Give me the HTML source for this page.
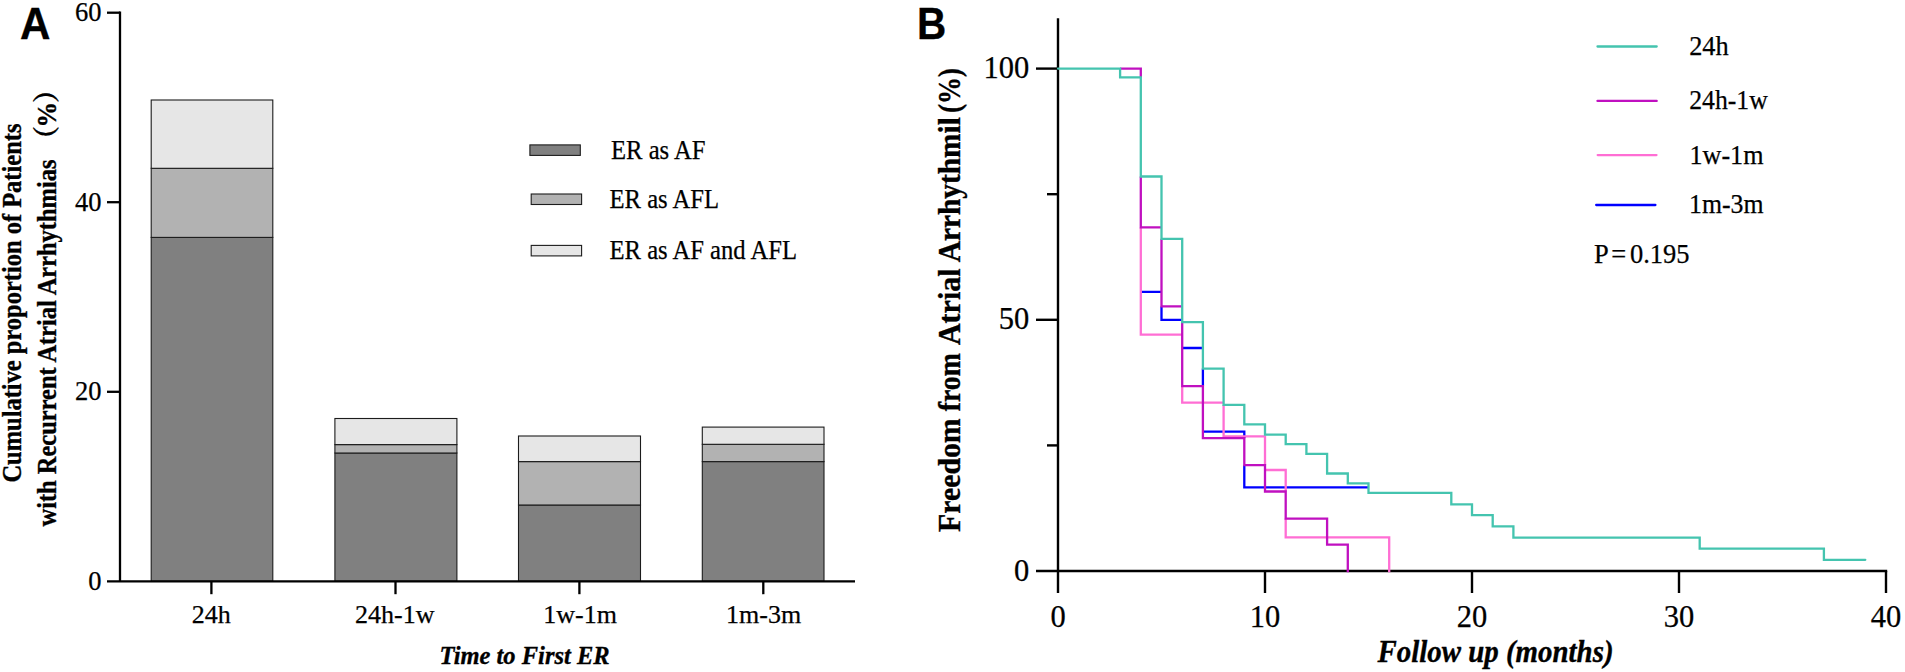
<!DOCTYPE html>
<html lang="en">
<head>
<meta charset="utf-8">
<title>Figure: Early recurrence timing and freedom from atrial arrhythmia</title>
<style>
html,body{margin:0;padding:0;background:#fff;}
body{width:1905px;height:672px;overflow:hidden;}
svg{display:block;}
text{fill:#000;stroke:#000;stroke-width:0.25px;}
text[font-weight=bold]{stroke-width:0.35px;}
</style>
</head>
<body>
<svg width="1905" height="672" viewBox="0 0 1905 672">
<rect x="0" y="0" width="1905" height="672" fill="#ffffff"/>
<g id="panelA">
<rect x="151.2" y="237.4" width="121.6" height="343.9" fill="#808080" stroke="#1c1c1c" stroke-width="1.1"/>
<rect x="151.2" y="168.3" width="121.6" height="69.1" fill="#b2b2b2" stroke="#1c1c1c" stroke-width="1.1"/>
<rect x="151.2" y="100.0" width="121.6" height="68.3" fill="#e6e6e6" stroke="#1c1c1c" stroke-width="1.1"/>
<rect x="334.9" y="453.0" width="122.0" height="128.3" fill="#808080" stroke="#1c1c1c" stroke-width="1.1"/>
<rect x="334.9" y="444.6" width="122.0" height="8.4" fill="#b2b2b2" stroke="#1c1c1c" stroke-width="1.1"/>
<rect x="334.9" y="418.5" width="122.0" height="26.1" fill="#e6e6e6" stroke="#1c1c1c" stroke-width="1.1"/>
<rect x="518.5" y="505.0" width="122.0" height="76.3" fill="#808080" stroke="#1c1c1c" stroke-width="1.1"/>
<rect x="518.5" y="461.6" width="122.0" height="43.4" fill="#b2b2b2" stroke="#1c1c1c" stroke-width="1.1"/>
<rect x="518.5" y="436.0" width="122.0" height="25.6" fill="#e6e6e6" stroke="#1c1c1c" stroke-width="1.1"/>
<rect x="702.3" y="461.6" width="121.7" height="119.7" fill="#808080" stroke="#1c1c1c" stroke-width="1.1"/>
<rect x="702.3" y="444.3" width="121.7" height="17.3" fill="#b2b2b2" stroke="#1c1c1c" stroke-width="1.1"/>
<rect x="702.3" y="427.1" width="121.7" height="17.2" fill="#e6e6e6" stroke="#1c1c1c" stroke-width="1.1"/>
<path d="M120.0 11.549999999999999 V581.3" stroke="#000" stroke-width="2.3" fill="none"/>
<path d="M107 581.3 H855" stroke="#000" stroke-width="2.3" fill="none"/>
<path d="M107 12.7 H120.0" stroke="#000" stroke-width="2.3"/>
<path d="M107 202.2 H120.0" stroke="#000" stroke-width="2.3"/>
<path d="M107 391.8 H120.0" stroke="#000" stroke-width="2.3"/>
<path d="M211.4 581.3 V594.2" stroke="#000" stroke-width="2.3"/>
<path d="M395.5 581.3 V594.2" stroke="#000" stroke-width="2.3"/>
<path d="M579.4 581.3 V594.2" stroke="#000" stroke-width="2.3"/>
<path d="M763.3 581.3 V594.2" stroke="#000" stroke-width="2.3"/>
<text x="101.6" y="21.3" font-size="26.5" text-anchor="end" font-weight="normal" font-style="normal" font-family='"Liberation Serif", serif'>60</text>
<text x="101.6" y="210.8" font-size="26.5" text-anchor="end" font-weight="normal" font-style="normal" font-family='"Liberation Serif", serif'>40</text>
<text x="101.6" y="400.4" font-size="26.5" text-anchor="end" font-weight="normal" font-style="normal" font-family='"Liberation Serif", serif'>20</text>
<text x="101.6" y="589.9" font-size="26.5" text-anchor="end" font-weight="normal" font-style="normal" font-family='"Liberation Serif", serif'>0</text>
<text x="211.2" y="623.1" font-size="26" text-anchor="middle" font-weight="normal" font-style="normal" font-family='"Liberation Serif", serif'>24h</text>
<text x="394.8" y="623.1" font-size="26" text-anchor="middle" font-weight="normal" font-style="normal" font-family='"Liberation Serif", serif'>24h-1w</text>
<text x="580.1" y="623.1" font-size="26" text-anchor="middle" font-weight="normal" font-style="normal" font-family='"Liberation Serif", serif'>1w-1m</text>
<text x="763.6" y="623.1" font-size="26" text-anchor="middle" font-weight="normal" font-style="normal" font-family='"Liberation Serif", serif'>1m-3m</text>
<text x="439.6" y="663.9" font-size="25.5" text-anchor="start" font-weight="bold" font-style="italic" font-family='"Liberation Serif", serif' textLength="170" lengthAdjust="spacingAndGlyphs">Time to First ER</text>
<text x="19.9" y="38.8" font-size="43.6" text-anchor="start" font-weight="bold" font-style="normal" font-family='"Liberation Sans", sans-serif' textLength="30.4" lengthAdjust="spacingAndGlyphs">A</text>
<g transform="rotate(-90)">
<text x="-482.6" y="20.8" font-size="27" text-anchor="start" font-weight="bold" font-style="normal" font-family='"Liberation Serif", serif' textLength="359" lengthAdjust="spacingAndGlyphs">Cumulative proportion of Patients</text>
<text x="-526.5" y="55.6" font-size="27" text-anchor="start" font-weight="bold" font-style="normal" font-family='"Liberation Serif", serif' textLength="367" lengthAdjust="spacingAndGlyphs">with Recurrent Atrial Arrhythmias</text>
<text x="-126.0" y="55.6" font-size="27" text-anchor="end" font-weight="bold" font-style="normal" font-family='"Noto Serif CJK SC", "Liberation Serif", serif'>（</text>
<text x="-127.6" y="55.6" font-size="27" text-anchor="start" font-weight="bold" font-style="normal" font-family='"Liberation Serif", serif' textLength="25.6" lengthAdjust="spacingAndGlyphs">%</text>
<text x="-103.0" y="55.6" font-size="27" text-anchor="start" font-weight="bold" font-style="normal" font-family='"Noto Serif CJK SC", "Liberation Serif", serif'>）</text>
</g>
<rect x="529.9" y="144.9" width="50.4" height="10.5" fill="#808080" stroke="#1c1c1c" stroke-width="1.1"/>
<rect x="531.2" y="194.0" width="50.4" height="10.5" fill="#b2b2b2" stroke="#1c1c1c" stroke-width="1.1"/>
<rect x="531.2" y="245.4" width="50.4" height="10.5" fill="#e6e6e6" stroke="#1c1c1c" stroke-width="1.1"/>
<text x="611.0" y="158.5" font-size="26.3" text-anchor="start" font-weight="normal" font-style="normal" font-family='"Liberation Serif", serif' textLength="94.5" lengthAdjust="spacingAndGlyphs">ER as AF</text>
<text x="609.5" y="208.0" font-size="26.3" text-anchor="start" font-weight="normal" font-style="normal" font-family='"Liberation Serif", serif' textLength="109.5" lengthAdjust="spacingAndGlyphs">ER as AFL</text>
<text x="609.5" y="259.4" font-size="26.3" text-anchor="start" font-weight="normal" font-style="normal" font-family='"Liberation Serif", serif' textLength="187.5" lengthAdjust="spacingAndGlyphs">ER as AF and AFL</text>
</g>
<g id="panelB">
<path d="M1058.0 18.2 V593" stroke="#000" stroke-width="2.4"/>
<path d="M1036 571.0 H1887.2" stroke="#000" stroke-width="2.4"/>
<path d="M1036 68.6 H1058.0" stroke="#000" stroke-width="2.4"/>
<path d="M1036 319.8 H1058.0" stroke="#000" stroke-width="2.4"/>
<path d="M1047 194.2 H1058.0" stroke="#000" stroke-width="2.4"/>
<path d="M1047 445.4 H1058.0" stroke="#000" stroke-width="2.4"/>
<path d="M1265.0 571.0 V593" stroke="#000" stroke-width="2.4"/>
<path d="M1472.0 571.0 V593" stroke="#000" stroke-width="2.4"/>
<path d="M1679.0 571.0 V593" stroke="#000" stroke-width="2.4"/>
<path d="M1886.0 571.0 V593" stroke="#000" stroke-width="2.4"/>
<path d="M1140.8 291.8 L1161.5 291.8 M1161.5 306.4 L1161.5 319.8 L1182.2 319.8 M1182.2 348.0 L1202.9 348.0 M1202.9 368.6 L1202.9 386.1 M1202.9 431.6 L1244.3 431.6 L1244.3 438.2 M1244.3 465.2 L1244.3 487.4 L1368.5 487.4" fill="none" stroke="#0000ff" stroke-width="2.3" stroke-linejoin="miter" stroke-linecap="butt"/>
<path d="M1140.8 227.4 L1140.8 334.7 L1182.2 334.7 M1182.2 386.1 L1182.2 402.6 L1223.6 402.6 M1223.6 404.8 L1223.6 436.3 L1265.0 436.3 L1265.0 465.2 M1265.0 470.0 L1285.7 470.0 L1285.7 491.5 M1285.7 518.6 L1285.7 537.3 L1389.2 537.3 L1389.2 572.2" fill="none" stroke="#ff6ed4" stroke-width="2.3" stroke-linejoin="miter" stroke-linecap="butt"/>
<path d="M1120.1 68.6 L1140.8 68.6 L1140.8 77.4 M1140.8 176.5 L1140.8 227.4 L1161.5 227.4 M1161.5 238.8 L1161.5 306.4 L1182.2 306.4 M1182.2 322.1 L1182.2 386.1 L1202.9 386.1 L1202.9 438.2 L1244.3 438.2 L1244.3 465.2 L1265.0 465.2 L1265.0 491.5 L1285.7 491.5 L1285.7 518.6 L1327.1 518.6 L1327.1 544.6 L1347.8 544.6 L1347.8 572.2" fill="none" stroke="#c010c0" stroke-width="2.3" stroke-linejoin="miter" stroke-linecap="butt"/>
<path d="M1058.0 68.6 L1120.1 68.6 L1120.1 77.4 L1140.8 77.4 L1140.8 176.5 L1161.5 176.5 L1161.5 238.8 L1182.2 238.8 L1182.2 322.1 L1202.9 322.1 L1202.9 368.6 L1223.6 368.6 L1223.6 404.8 L1244.3 404.8 L1244.3 424.4 L1265.0 424.4 L1265.0 434.7 L1285.7 434.7 L1285.7 444.2 L1306.4 444.2 L1306.4 453.8 L1327.1 453.8 L1327.1 473.5 L1347.8 473.5 L1347.8 483.4 L1368.5 483.4 L1368.5 492.9 L1451.3 492.9 L1451.3 504.3 L1472.0 504.3 L1472.0 515.2 L1492.7 515.2 L1492.7 526.4 L1513.4 526.4 L1513.4 537.6 L1699.7 537.6 L1699.7 548.7 L1823.9 548.7 L1823.9 559.8 L1865.3 559.8" fill="none" stroke="#44c4af" stroke-width="2.3" stroke-linejoin="miter" stroke-linecap="round"/>
<text x="1029.3" y="78.2" font-size="30.5" text-anchor="end" font-weight="normal" font-style="normal" font-family='"Liberation Serif", serif'>100</text>
<text x="1029.3" y="329.4" font-size="30.5" text-anchor="end" font-weight="normal" font-style="normal" font-family='"Liberation Serif", serif'>50</text>
<text x="1029.3" y="580.6" font-size="30.5" text-anchor="end" font-weight="normal" font-style="normal" font-family='"Liberation Serif", serif'>0</text>
<text x="1058.0" y="626.5" font-size="30.5" text-anchor="middle" font-weight="normal" font-style="normal" font-family='"Liberation Serif", serif'>0</text>
<text x="1265.0" y="626.5" font-size="30.5" text-anchor="middle" font-weight="normal" font-style="normal" font-family='"Liberation Serif", serif'>10</text>
<text x="1472.0" y="626.5" font-size="30.5" text-anchor="middle" font-weight="normal" font-style="normal" font-family='"Liberation Serif", serif'>20</text>
<text x="1679.0" y="626.5" font-size="30.5" text-anchor="middle" font-weight="normal" font-style="normal" font-family='"Liberation Serif", serif'>30</text>
<text x="1886.0" y="626.5" font-size="30.5" text-anchor="middle" font-weight="normal" font-style="normal" font-family='"Liberation Serif", serif'>40</text>
<text x="1377.5" y="661.5" font-size="30.5" text-anchor="start" font-weight="bold" font-style="italic" font-family='"Liberation Serif", serif' textLength="236" lengthAdjust="spacingAndGlyphs">Follow up (months)</text>
<text x="916.9" y="39.0" font-size="43.6" text-anchor="start" font-weight="bold" font-style="normal" font-family='"Liberation Sans", sans-serif' textLength="29.2" lengthAdjust="spacingAndGlyphs">B</text>
<g transform="rotate(-90)">
<text x="-531.9" y="959.5" font-size="31" text-anchor="start" font-weight="bold" font-style="normal" font-family='"Liberation Serif", serif' textLength="113.5" lengthAdjust="spacingAndGlyphs">Freedom</text>
<text x="-411.2" y="959.5" font-size="31" text-anchor="start" font-weight="bold" font-style="normal" font-family='"Liberation Serif", serif' textLength="58.0" lengthAdjust="spacingAndGlyphs">from</text>
<text x="-345.0" y="959.5" font-size="31" text-anchor="start" font-weight="bold" font-style="normal" font-family='"Liberation Serif", serif' textLength="76.5" lengthAdjust="spacingAndGlyphs">Atrial</text>
<text x="-262.2" y="959.5" font-size="31" text-anchor="start" font-weight="bold" font-style="normal" font-family='"Liberation Serif", serif' textLength="145.0" lengthAdjust="spacingAndGlyphs">Arrhythmil</text>
<text x="-113.0" y="959.5" font-size="31" text-anchor="start" font-weight="bold" font-style="normal" font-family='"Liberation Serif", serif' textLength="45.0" lengthAdjust="spacingAndGlyphs">(%)</text>
</g>
<path d="M1597.5 46.5 H1656.7" stroke="#44c4af" stroke-width="2.3" stroke-linecap="round"/>
<path d="M1597.5 100.9 H1656.7" stroke="#c010c0" stroke-width="2.3" stroke-linecap="round"/>
<path d="M1597.7 155.1 H1656.5" stroke="#ff6ed4" stroke-width="2.3" stroke-linecap="round"/>
<path d="M1596.2 205.0 H1655.4" stroke="#0000ff" stroke-width="2.3" stroke-linecap="round"/>
<text x="1689.2" y="54.9" font-size="26.5" text-anchor="start" font-weight="normal" font-style="normal" font-family='"Liberation Serif", serif' textLength="39.5" lengthAdjust="spacingAndGlyphs">24h</text>
<text x="1689.2" y="108.9" font-size="26.5" text-anchor="start" font-weight="normal" font-style="normal" font-family='"Liberation Serif", serif' textLength="78.5" lengthAdjust="spacingAndGlyphs">24h-1w</text>
<text x="1689.5" y="163.5" font-size="26.5" text-anchor="start" font-weight="normal" font-style="normal" font-family='"Liberation Serif", serif' textLength="74" lengthAdjust="spacingAndGlyphs">1w-1m</text>
<text x="1689.0" y="213.0" font-size="26.5" text-anchor="start" font-weight="normal" font-style="normal" font-family='"Liberation Serif", serif' textLength="74.5" lengthAdjust="spacingAndGlyphs">1m-3m</text>
<text x="1594.0" y="262.8" font-size="26.5" text-anchor="start" font-weight="normal" font-style="normal" font-family='"Liberation Serif", serif' textLength="95.5" lengthAdjust="spacingAndGlyphs" word-spacing="-3">P = 0.195</text>
</g>
</svg>
</body>
</html>
